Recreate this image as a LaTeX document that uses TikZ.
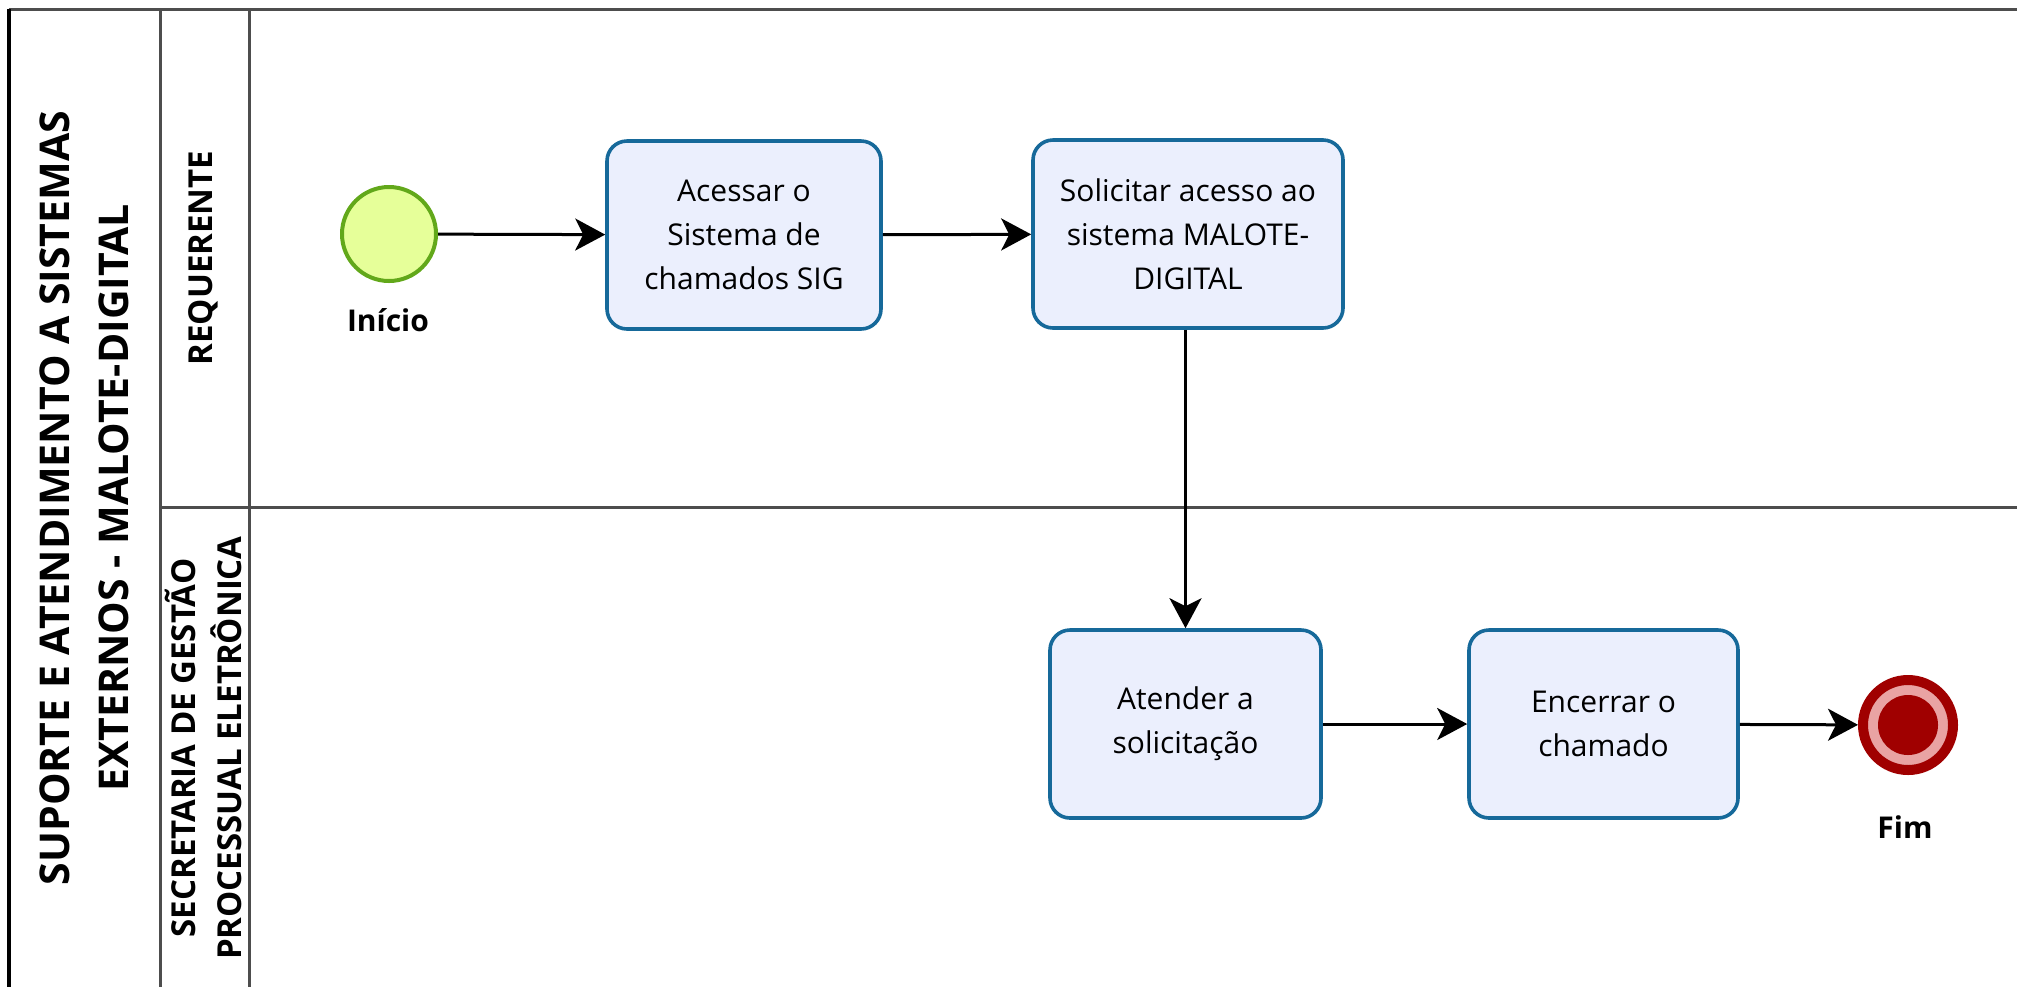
\documentclass[tikz,border=0pt]{standalone}
\usepackage{fontspec}
\setmainfont{Open Sans}
\usetikzlibrary{arrows.meta}

\definecolor{lanegray}{HTML}{4D4D4D}
\definecolor{taskblue}{HTML}{16699A}
\definecolor{taskfill}{HTML}{EBEFFD}
\definecolor{startgreen}{HTML}{62A81A}
\definecolor{startfill}{HTML}{E6FF99}
\definecolor{endred}{HTML}{A00000}
\definecolor{endpink}{HTML}{E9A3A3}

\tikzset{
  task/.style={draw=taskblue, line width=1.8pt, fill=taskfill, rounded corners=10pt, align=center, minimum height=94pt, inner sep=0pt, font=\fontsize{15}{22}\selectfont},
  startevent/.style={circle, draw=startgreen, fill=startfill, line width=2pt, minimum size=47pt, inner sep=0pt},
  endevent/.style={circle, draw=endred, fill=endpink, line width=5pt, minimum size=45pt, inner sep=0pt, path picture={\fill[endred] (path picture bounding box.center) circle (15pt);}},
  evlabel/.style={font=\fontsize{15}{18}\selectfont\bfseries},
  flow/.style={draw=black, line width=1.5pt, -{Stealth[length=15pt,width=16pt,inset=4pt]}},
  lanelabel/.style={rotate=90, align=center, font=\fontsize{16.5}{23}\selectfont\bfseries},
  poollabel/.style={rotate=90, align=center, font=\fontsize{20.5}{29.5}\selectfont\bfseries},
  laneline/.style={draw=lanegray, line width=1.5pt}
}

\begin{document}
\begin{tikzpicture}[x=0.5pt,y=-0.5pt]

\useasboundingbox (0,0) rectangle (2017,987);

\draw[laneline] (8.5,9.5) -- (2017,9.5);
\draw[laneline] (160,9.5) -- (160,987);
\draw[laneline] (249,9.5) -- (249,987);
\draw[laneline] (160,507) -- (2017,507);
\draw[black, line width=2pt] (8.5,8.5) -- (8.5,987);

\node[poollabel] (pool) at (84,498) {SUPORTE E ATENDIMENTO A SISTEMAS\\EXTERNOS - MALOTE-DIGITAL};
\node[lanelabel] (requerente) at (203,258) {REQUERENTE};
\node[lanelabel] (secretaria) at (203,748) {SECRETARIA DE GESTÃO\\PROCESSUAL ELETRÔNICA};

\node[startevent] (inicio) at (389,234) {};
\node[evlabel] (inicioLabel) at (388,320) {Início};
\node[task, minimum width=137pt] (acessar) at (744,235) {Acessar o\\Sistema de\\chamados SIG};
\node[task, minimum width=155pt] (solicitar) at (1188,234) {Solicitar acesso ao\\sistema MALOTE-\\DIGITAL};
\node[task, minimum width=135.5pt] (atender) at (1185.5,724) {Atender a\\solicitação};
\node[task, minimum width=134.5pt] (encerrar) at (1603.5,724) {Encerrar o\\chamado};
\node[endevent] (fim) at (1908,725) {};
\node[evlabel] (fimLabel) at (1905,827) {Fim};

\draw[flow] (inicio) -- (acessar);
\draw[flow] (acessar) -- (solicitar);
\draw[flow] (atender.north |- solicitar.south) -- (atender.north);
\draw[flow] (atender) -- (encerrar);
\draw[flow] (encerrar) -- (fim);

\end{tikzpicture}
\end{document}
